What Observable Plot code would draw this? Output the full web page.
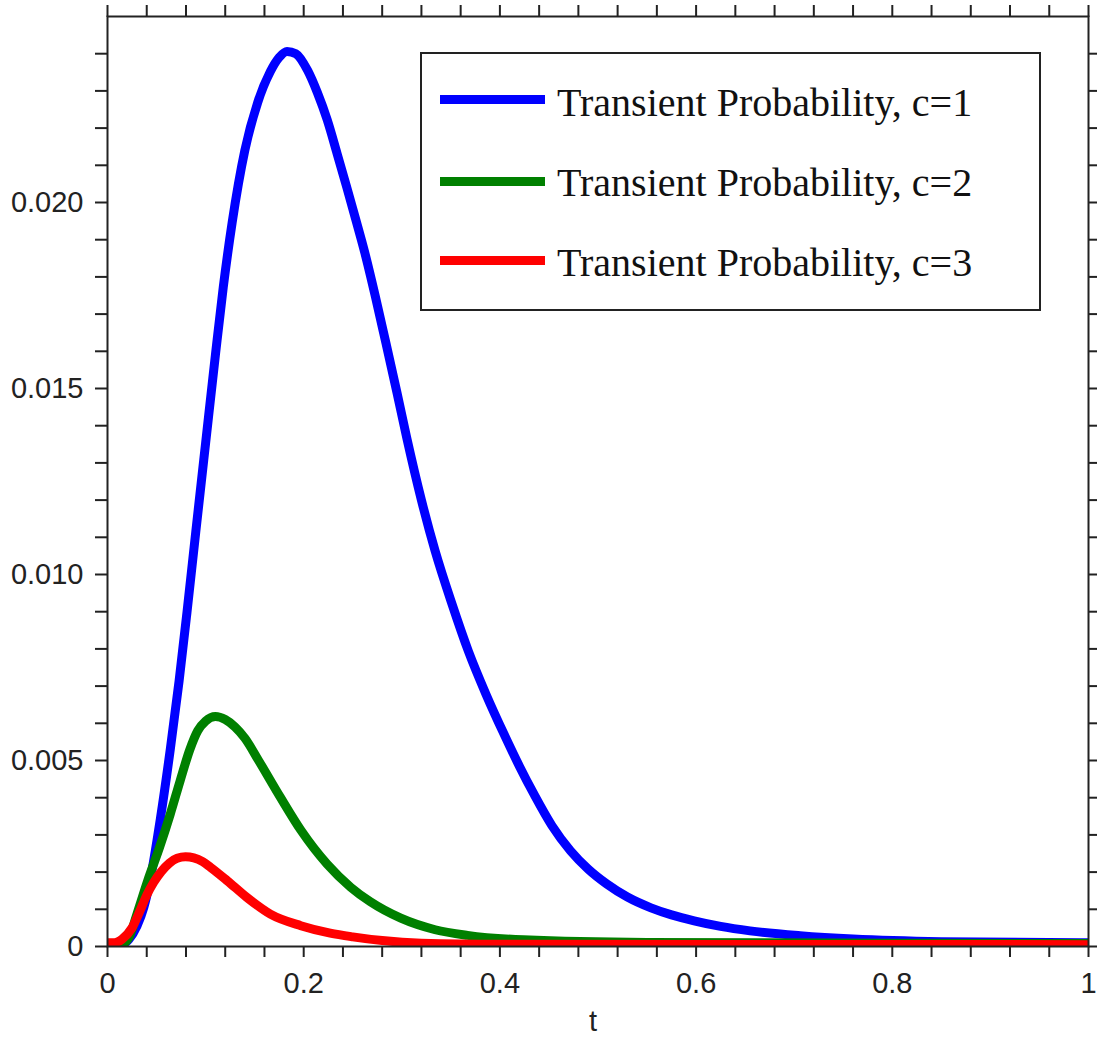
<!DOCTYPE html>
<html>
<head>
<meta charset="utf-8">
<script src="https://cdn.jsdelivr.net/npm/d3@7"></script>
<script src="https://cdn.jsdelivr.net/npm/@observablehq/plot@0.6"></script>
<style>
  html, body { margin: 0; padding: 0; background: #fff; }
  #wrap { position: relative; width: 1097px; height: 1038px; }
  #legend {
    position: absolute; left: 420px; top: 52px; width: 617px; height: 255px;
    border: 2px solid #222; background: #fff;
    font-family: "Liberation Serif", "Times New Roman", serif; font-size: 40px; color: #111;
  }
  .sw { position: absolute; left: 18px; width: 105px; height: 9px; }
  .lt { position: absolute; left: 135px; line-height: 1; white-space: nowrap; }
</style>
</head>
<body>
<div id="wrap"></div>
<script>
// ---- series names & colours
const seriesNames = ["Transient Probability, c=1", "Transient Probability, c=2", "Transient Probability, c=3"];
const seriesColors = ["#0000ff", "#008000", "#ff0000"];

// ---- c=1 (blue)
const t1 = [0, 0.012, 0.022, 0.030, 0.037, 0.043, 0.054, 0.064, 0.073, 0.081, 0.090, 0.100, 0.110, 0.118, 0.127, 0.140, 0.153, 0.166, 0.175, 0.183, 0.192, 0.204, 0.214, 0.224, 0.234, 0.244, 0.253, 0.262, 0.273, 0.284, 0.295, 0.305, 0.320, 0.334, 0.351, 0.368, 0.386, 0.404, 0.420, 0.435, 0.453, 0.472, 0.490, 0.509, 0.530, 0.554, 0.575, 0.598, 0.625, 0.655, 0.706, 0.760, 0.850, 1.000];
const v1 = [0, 0.00002, 0.00020, 0.00055, 0.00105, 0.00172, 0.00345, 0.00530, 0.00714, 0.00898, 0.01115, 0.01353, 0.01590, 0.01772, 0.01945, 0.02140, 0.02268, 0.02352, 0.02390, 0.02406, 0.02400, 0.02355, 0.02295, 0.02222, 0.02132, 0.02040, 0.01955, 0.01868, 0.01748, 0.01620, 0.01490, 0.01368, 0.01200, 0.01063, 0.00922, 0.00793, 0.00677, 0.00572, 0.00484, 0.00408, 0.00325, 0.00257, 0.00208, 0.00168, 0.00133, 0.00104, 0.00085, 0.00069, 0.00054, 0.00042, 0.00029, 0.00020, 0.00013, 0.00010];

// ---- c=2 (green)
const t2 = [0, 0.012, 0.022, 0.030, 0.041, 0.053, 0.064, 0.074, 0.084, 0.092, 0.100, 0.110, 0.120, 0.130, 0.140, 0.154, 0.176, 0.197, 0.224, 0.248, 0.268, 0.299, 0.334, 0.367, 0.424, 0.550, 0.800, 1.000];
const v2 = [0, 0.00002, 0.00025, 0.00087, 0.00177, 0.00266, 0.00356, 0.00445, 0.00530, 0.00580, 0.00606, 0.00618, 0.00610, 0.00590, 0.00560, 0.00500, 0.00402, 0.00313, 0.00221, 0.00159, 0.00120, 0.00076, 0.00045, 0.00030, 0.00018, 0.00011, 0.00009, 0.00008];

// ---- c=3 (red)
const t3 = [0, 0.007, 0.015, 0.025, 0.033, 0.040, 0.047, 0.055, 0.063, 0.071, 0.0795, 0.088, 0.097, 0.105, 0.122, 0.142, 0.166, 0.197, 0.227, 0.250, 0.280, 0.320, 0.400, 1.000];
const v3 = [0.00010, 0.00010, 0.00020, 0.00050, 0.00095, 0.00138, 0.00172, 0.00202, 0.00224, 0.00237, 0.00241, 0.00238, 0.00228, 0.00213, 0.00177, 0.00132, 0.00087, 0.00056, 0.00036, 0.00026, 0.00016, 0.00009, 0.00006, 0.00005];

// ---- axis ticks and labels
const xTickValues = [0, 0.04, 0.08, 0.12, 0.16, 0.2, 0.24, 0.28, 0.32, 0.36, 0.4, 0.44, 0.48, 0.52, 0.56, 0.6, 0.64, 0.68, 0.72, 0.76, 0.8, 0.84, 0.88, 0.92, 0.96, 1];
const xLabelValues = [0, 0.2, 0.4, 0.6, 0.8, 1];
const xTickLabels = ["0", "0.2", "0.4", "0.6", "0.8", "1"];
const yTickValues = [0, 0.001, 0.002, 0.003, 0.004, 0.005, 0.006, 0.007, 0.008, 0.009, 0.010, 0.011, 0.012, 0.013, 0.014, 0.015, 0.016, 0.017, 0.018, 0.019, 0.020, 0.021, 0.022, 0.023, 0.024];
const yLabelValues = [0, 0.005, 0.010, 0.015, 0.020];
const yTickLabels = ["0", "0.005", "0.010", "0.015", "0.020"];
const xAxisLabel = "t";

// build tables
function table(ts, vs, name) { return ts.map((t, i) => ({t, v: vs[i], series: name})); }
const series = [table(t1, v1, seriesNames[0]), table(t2, v2, seriesNames[1]), table(t3, v3, seriesNames[2])];

function lookup(values, labels) {
  return d => { const i = values.findIndex(v => Math.abs(v - d) < 1e-9); return i < 0 ? "" : labels[i]; };
}

const ink = "#222";
const fontSize = 29;

const chart = Plot.plot({
  width: 1097,
  height: 1038,
  marginTop: 16,
  marginRight: 9,
  marginBottom: 92,
  marginLeft: 107,
  style: { fontFamily: "'Liberation Sans', Arial, sans-serif", fontSize: fontSize + "px", color: ink, background: "#fff" },
  x: { domain: [0, 1] },
  y: { domain: [0, 0.025] },
  marks: [
    ...series.map((s, i) => Plot.line(s, { x: "t", y: "v", stroke: seriesColors[i], strokeWidth: 9, curve: "monotone-x", clip: true })),
    Plot.frame({ stroke: ink, strokeWidth: 2 }),
    Plot.axisX({ anchor: "bottom", ticks: xTickValues, tickSize: 11, tickPadding: 15, tickFormat: lookup(xLabelValues, xTickLabels), stroke: ink, strokeWidth: 2, fill: ink, fontSize, label: null }),
    Plot.axisX({ anchor: "top", ticks: xTickValues, tickSize: 12, tickFormat: () => "", stroke: ink, strokeWidth: 2, label: null }),
    Plot.axisY({ anchor: "left", ticks: yTickValues, tickSize: 12, tickPadding: 12, tickFormat: lookup(yLabelValues, yTickLabels), stroke: ink, strokeWidth: 2, fill: ink, fontSize, label: null }),
    Plot.axisY({ anchor: "right", ticks: yTickValues, tickSize: 11, tickFormat: () => "", stroke: ink, strokeWidth: 2, label: null }),
    Plot.text([xAxisLabel], { frameAnchor: "bottom", dy: 75, dx: -5, fontSize, fill: ink, lineAnchor: "middle" })
  ]
});

const wrap = document.getElementById("wrap");
wrap.appendChild(chart);

// legend (inside the plot area, as in the reference)
const legend = document.createElement("div");
legend.id = "legend";
const swatchTops = [40.5, 122.5, 201.5];
const textTops = [29, 109, 188.5];
seriesNames.forEach((name, i) => {
  const sw = document.createElement("div");
  sw.className = "sw";
  sw.style.top = swatchTops[i] + "px";
  sw.style.background = seriesColors[i];
  legend.appendChild(sw);
  const tx = document.createElement("div");
  tx.className = "lt";
  tx.style.top = textTops[i] + "px";
  tx.textContent = name;
  legend.appendChild(tx);
});
wrap.appendChild(legend);
</script>
</body>
</html>
